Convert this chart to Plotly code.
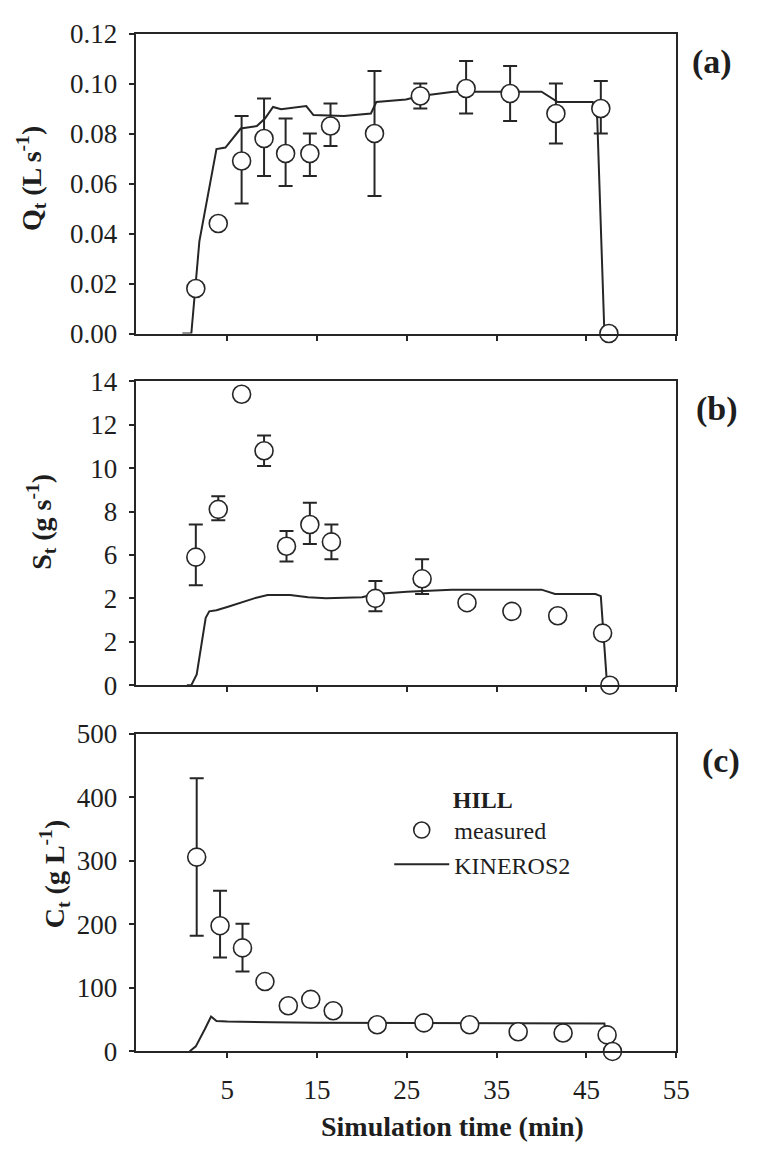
import plotly.graph_objects as go

W, H = 761, 1158

# ---------------- data ----------------
# (a) discharge Q_t (L s-1)
a_time = [1.5, 4.0, 6.6, 9.1, 11.5, 14.2, 16.5, 21.4, 26.5, 31.6, 36.5, 41.6, 46.6, 47.5]
a_q = [0.018, 0.044, 0.069, 0.078, 0.072, 0.072, 0.083, 0.080, 0.095, 0.098, 0.096, 0.088, 0.090, 0.000]
a_err_up = [0, 0, 0.018, 0.016, 0.014, 0.008, 0.009, 0.025, 0.005, 0.011, 0.011, 0.012, 0.011, 0]
a_err_dn = [0, 0, 0.017, 0.015, 0.013, 0.009, 0.008, 0.025, 0.005, 0.010, 0.011, 0.012, 0.010, 0]
a_mod_time = [0.0, 1.0, 1.9, 3.8, 4.8, 6.5, 8.3, 9.2, 10.1, 11.0, 13.8, 14.6, 18.0, 21.0, 21.6,
              24.9, 26.5, 30.2, 40.0, 41.8, 45.7, 46.2, 47.0]
a_mod_q = [0, 0, 0.037, 0.0738, 0.0744, 0.082, 0.083, 0.086, 0.0906, 0.0897, 0.091, 0.0874, 0.087,
           0.088, 0.0926, 0.0936, 0.095, 0.0967, 0.0967, 0.0926, 0.0926, 0.086, 0]

# (b) sediment discharge S_t (g s-1)
b_time = [1.5, 4.0, 6.6, 9.1, 11.6, 14.2, 16.6, 21.5, 26.7, 31.7, 36.7, 41.8, 46.8, 47.6]
b_s = [5.9, 8.1, 13.4, 10.8, 6.4, 7.4, 6.6, 4.0, 4.9, 3.8, 3.4, 3.2, 2.4, 0.0]
b_err_up = [1.5, 0.6, 0, 0.7, 0.7, 1.0, 0.8, 0.8, 0.9, 0, 0, 0, 0, 0]
b_err_dn = [1.3, 0.5, 0, 0.7, 0.7, 0.9, 0.8, 0.6, 0.7, 0, 0, 0, 0, 0]
b_mod_time = [0.5, 1.0, 1.6, 2.6, 3.0, 3.8, 5.0, 6.8, 8.0, 9.5, 12.0, 14.0, 16.0, 20.0, 21.5,
              25.0, 30.0, 40.0, 41.5, 46.0, 46.6, 47.3]
b_mod_s = [0, 0, 0.5, 3.1, 3.4, 3.45, 3.6, 3.85, 4.0, 4.15, 4.15, 4.05, 4.0, 4.05, 4.2,
           4.3, 4.4, 4.4, 4.2, 4.2, 4.1, 0]
b_tickvals = [0, 2, 4, 6, 8, 10, 12, 14]
b_ticktext = ["0", "2", "2", "6", "8", "10", "12", "14"]

# (c) sediment concentration C_t (g L-1)
c_time = [1.6, 4.2, 6.7, 9.2, 11.8, 14.3, 16.8, 21.7, 26.9, 32.0, 37.4, 42.4, 47.3, 47.9]
c_c = [306, 198, 163, 110, 72, 82, 64, 42, 45, 42, 31, 29, 26, 0]
c_err_up = [124, 55, 38, 0, 0, 0, 0, 0, 0, 0, 0, 0, 0, 0]
c_err_dn = [124, 50, 37, 0, 0, 0, 0, 0, 0, 0, 0, 0, 0, 0]
c_mod_time = [0.8, 1.5, 2.5, 3.2, 3.8, 5.0, 10.0, 15.0, 47.0, 47.4]
c_mod_c = [0, 8, 35, 55, 48, 47, 46, 45, 44, 0]

x_ticks = [5, 15, 25, 35, 45, 55]
x_range = [-5.2, 55]

# ---------------- style ----------------
INK = "#262626"
TXT = "#1e1e1e"
FONT = "Liberation Serif, Times New Roman, serif"
TICK_SIZE = 27


def px_x(p):
    return p / W


def px_y(p):
    return 1 - p / H


left, right = 138, 688
panels = {"a": (19, 327), "b": (376, 688), "c": (738, 1064)}

fig = go.Figure()


def add_panel(idx, mt, mv, t, v, eu, ed, legend):
    xa = "x" if idx == 1 else f"x{idx}"
    ya = "y" if idx == 1 else f"y{idx}"
    fig.add_trace(go.Scatter(
        x=mt, y=mv, mode="lines", name="KINEROS2",
        line=dict(color=INK, width=2), xaxis=xa, yaxis=ya,
        showlegend=legend, legendrank=2, cliponaxis=False))
    fig.add_trace(go.Scatter(
        x=t, y=v, mode="markers", name="measured",
        marker=dict(symbol="circle", size=18, color="white",
                    line=dict(color=INK, width=1.6)),
        error_y=dict(type="data", symmetric=False, array=eu, arrayminus=ed,
                     color=INK, thickness=2, width=7),
        xaxis=xa, yaxis=ya, showlegend=legend, legendrank=1, cliponaxis=False))


add_panel(1, a_mod_time, a_mod_q, a_time, a_q, a_err_up, a_err_dn, False)
add_panel(2, b_mod_time, b_mod_s, b_time, b_s, b_err_up, b_err_dn, False)
add_panel(3, c_mod_time, c_mod_c, c_time, c_c, c_err_up, c_err_dn, True)

axis_common = dict(showline=True, mirror=True, linecolor=INK, linewidth=2,
                   ticks="outside", ticklen=5, tickwidth=1.5, tickcolor=INK,
                   showgrid=False, zeroline=False,
                   tickfont=dict(family=FONT, size=TICK_SIZE, color=TXT))

dom_x = [px_x(left), px_x(right)]

fig.update_layout(
    width=W, height=H, margin=dict(l=0, r=0, t=0, b=0),
    paper_bgcolor="white", plot_bgcolor="white",
    font=dict(family=FONT, color=TXT),
    xaxis=dict(domain=dom_x, range=x_range, tickvals=x_ticks, showticklabels=False,
               anchor="y", **axis_common),
    yaxis=dict(domain=[px_y(panels["a"][1]), px_y(panels["a"][0])], range=[0, 0.12],
               tickvals=[0, 0.02, 0.04, 0.06, 0.08, 0.10, 0.12], tickformat=".2f",
               anchor="x", ticklabelstandoff=6, **axis_common),
    xaxis2=dict(domain=dom_x, range=x_range, tickvals=x_ticks, showticklabels=False,
                anchor="y2", **axis_common),
    yaxis2=dict(domain=[px_y(panels["b"][1]), px_y(panels["b"][0])], range=[0, 14],
                tickvals=b_tickvals, ticktext=b_ticktext, anchor="x2",
                ticklabelstandoff=6, **axis_common),
    xaxis3=dict(domain=dom_x, range=x_range, tickvals=x_ticks, anchor="y3",
                ticklabelstandoff=8, **axis_common),
    yaxis3=dict(domain=[px_y(panels["c"][1]), px_y(panels["c"][0])], range=[0, 500],
                tickvals=[0, 100, 200, 300, 400, 500], anchor="x3",
                ticklabelstandoff=6, **axis_common),
    legend=dict(x=px_x(396), y=px_y(782), xanchor="left", yanchor="top",
                bgcolor="rgba(0,0,0,0)", borderwidth=0,
                font=dict(family=FONT, size=24, color=TXT),
                title=dict(text="<b>HILL</b>", side="top center",
                           font=dict(family=FONT, size=24, color=TXT)),
                itemsizing="trace", itemwidth=55, tracegroupgap=0),
    showlegend=True,
)

ann = []
# y-axis titles
ann.append(dict(text="<b>Q<sub>t</sub> (L s<sup>-1</sup>)</b>", x=px_x(32), y=px_y(168),
                textangle=-90))
ann.append(dict(text="<b>S<sub>t</sub> (g s<sup>-1</sup>)</b>", x=px_x(42), y=px_y(520),
                textangle=-90))
ann.append(dict(text="<b>C<sub>t</sub> (g L<sup>-1</sup>)</b>", x=px_x(55), y=px_y(882),
                textangle=-90))
# panel tags
ann.append(dict(text="<b>(a)</b>", x=px_x(724), y=px_y(48)))
ann.append(dict(text="<b>(b)</b>", x=px_x(729), y=px_y(404)))
ann.append(dict(text="<b>(c)</b>", x=px_x(734), y=px_y(766)))
# x-axis title
ann.append(dict(text="<b>Simulation time (min)</b>", x=px_x(460), y=px_y(1141)))

for a in ann:
    size = 28
    if a["text"].startswith("<b>("):
        size = 34
    a.update(xref="paper", yref="paper", showarrow=False, xanchor="center", yanchor="middle",
             font=dict(family=FONT, size=size, color=TXT))
fig.update_layout(annotations=ann)

fig.write_html("out.html")
